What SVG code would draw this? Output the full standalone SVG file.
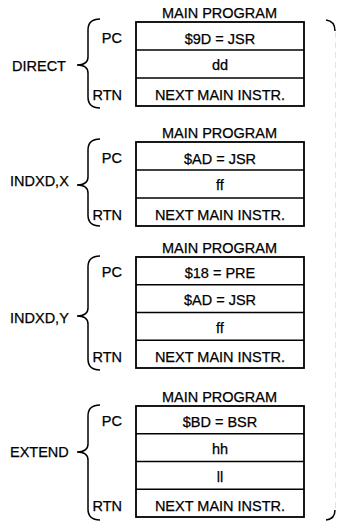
<svg xmlns="http://www.w3.org/2000/svg" width="337" height="523" viewBox="0 0 337 523">
<style>
text{font-family:"Liberation Sans",Arial,sans-serif;font-size:14.5px;fill:#000;stroke:#000;stroke-width:0.25}
.c{text-anchor:middle}
.e{text-anchor:end}
.box{fill:#fff;stroke:#000;stroke-width:1.8}
.ln{stroke:#000;stroke-width:1.4;fill:none}
.br{stroke:#000;stroke-width:1.5;fill:none}
</style>
<rect width="337" height="523" fill="#fff"/>
<g id="direct">
<text x="219.5" y="18" class="c">MAIN PROGRAM</text>
<rect class="box" x="136" y="22" width="168" height="84"/>
<line class="ln" x1="136" y1="50" x2="304" y2="50"/>
<line class="ln" x1="136" y1="78" x2="304" y2="78"/>
<text x="220" y="44" class="c">$9D = JSR</text>
<text x="220" y="70" class="c">dd</text>
<text x="220" y="100" class="c">NEXT MAIN INSTR.</text>
<text x="122" y="43" class="e">PC</text>
<text x="122" y="100" class="e">RTN</text>
<path class="br" d="M100,19 Q88,19 88,30 L88,57 Q88,65 77,65 Q88,65 88,73 L88,97 Q88,108 100,108"/>
<text x="12" y="71">DIRECT</text>
</g>
<g id="indxdx">
<text x="219.5" y="138" class="c">MAIN PROGRAM</text>
<rect class="box" x="136" y="142" width="168" height="84"/>
<line class="ln" x1="136" y1="170" x2="304" y2="170"/>
<line class="ln" x1="136" y1="198" x2="304" y2="198"/>
<text x="220" y="164" class="c">$AD = JSR</text>
<text x="220" y="190" class="c">ff</text>
<text x="220" y="220" class="c">NEXT MAIN INSTR.</text>
<text x="122" y="163" class="e">PC</text>
<text x="122" y="220" class="e">RTN</text>
<path class="br" d="M100,139 Q88,139 88,150 L88,177 Q88,185 77,185 Q88,185 88,193 L88,215 Q88,226 100,226"/>
<text x="10" y="186">INDXD,X</text>
</g>
<g id="indxdy">
<text x="219.5" y="253" class="c">MAIN PROGRAM</text>
<rect class="box" x="136" y="257" width="168" height="111"/>
<line class="ln" x1="136" y1="284.75" x2="304" y2="284.75"/>
<line class="ln" x1="136" y1="312.5" x2="304" y2="312.5"/>
<line class="ln" x1="136" y1="340.25" x2="304" y2="340.25"/>
<text x="220" y="278" class="c">$18 = PRE</text>
<text x="220" y="305" class="c">$AD = JSR</text>
<text x="220" y="333" class="c">ff</text>
<text x="220" y="362" class="c">NEXT MAIN INSTR.</text>
<text x="122" y="277" class="e">PC</text>
<text x="122" y="362" class="e">RTN</text>
<path class="br" d="M100,256 Q88,256 88,267 L88,308 Q88,316 77,316 Q88,316 88,324 L88,359 Q88,370 100,370"/>
<text x="10" y="323">INDXD,Y</text>
</g>
<g id="extend">
<text x="219.5" y="402" class="c">MAIN PROGRAM</text>
<rect class="box" x="136" y="406" width="168" height="111"/>
<line class="ln" x1="136" y1="433.75" x2="304" y2="433.75"/>
<line class="ln" x1="136" y1="461.5" x2="304" y2="461.5"/>
<line class="ln" x1="136" y1="489.25" x2="304" y2="489.25"/>
<text x="220" y="427" class="c">$BD = BSR</text>
<text x="220" y="454" class="c">hh</text>
<text x="220" y="482" class="c">ll</text>
<text x="220" y="511" class="c">NEXT MAIN INSTR.</text>
<text x="122" y="426" class="e">PC</text>
<text x="122" y="511" class="e">RTN</text>
<path class="br" d="M100,405 Q88,405 88,416 L88,444 Q88,452 77,452 Q88,452 88,460 L88,509 Q88,520 100,520"/>
<text x="10" y="457">EXTEND</text>
</g>
<g id="connectors">
<path class="br" d="M326,20 Q335,21 335,31"/>
<line x1="335.5" y1="32" x2="335.5" y2="509" stroke="#e4e4e4" stroke-width="1" stroke-dasharray="6,4"/>
<path class="br" d="M335,510 Q335,519 326,520"/>
</g>
</svg>
